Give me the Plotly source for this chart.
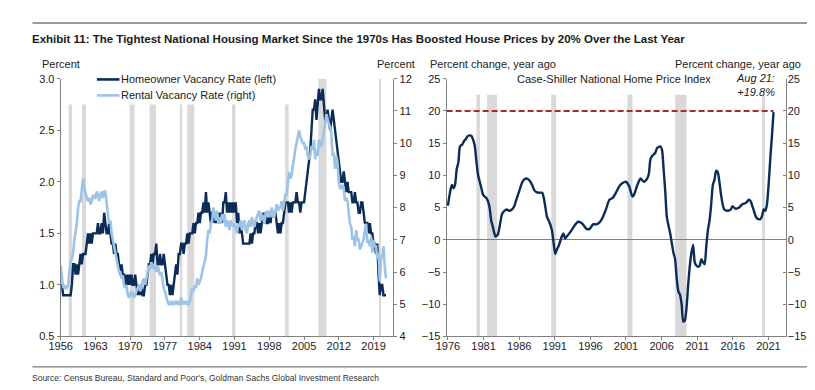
import plotly.graph_objects as go

W, H = 815, 390

# ---------------- DATA ----------------
hv_start_year = 1956  # quarterly series start (Q1)

homeowner_vacancy = [
    1.0, 1.0, 0.9, 0.9,   # 1956
    0.9, 0.9, 0.9, 0.9,   # 1957
    0.9, 1.0, 1.2, 1.2,   # 1958
    1.1, 1.2, 1.1, 1.2,   # 1959
    1.3, 1.2, 1.3, 1.3,   # 1960
    1.3, 1.4, 1.5, 1.4,   # 1961
    1.5, 1.4, 1.5, 1.5,   # 1962
    1.5, 1.5, 1.6, 1.5,   # 1963
    1.5, 1.6, 1.5, 1.7,   # 1964
    1.6, 1.5, 1.5, 1.6,   # 1965
    1.5, 1.4, 1.4, 1.3,   # 1966
    1.4, 1.3, 1.3, 1.2,   # 1967
    1.1, 1.2, 1.1, 1.1,   # 1968
    1.0, 1.1, 1.0, 1.1,   # 1969
    1.0, 1.1, 1.0, 1.0,   # 1970
    1.1, 1.0, 0.9, 1.0,   # 1971
    0.9, 1.0, 0.9, 0.9,   # 1972
    1.0, 1.0, 1.1, 1.2,   # 1973
    1.2, 1.3, 1.2, 1.3,   # 1974
    1.3, 1.4, 1.2, 1.2,   # 1975
    1.3, 1.2, 1.2, 1.3,   # 1976
    1.2, 1.1, 1.0, 1.0,   # 1977
    0.9, 1.0, 0.9, 1.0,   # 1978
    1.1, 1.2, 1.1, 1.3,   # 1979
    1.3, 1.4, 1.4, 1.3,   # 1980
    1.4, 1.4, 1.5, 1.4,   # 1981
    1.5, 1.5, 1.5, 1.6,   # 1982
    1.5, 1.6, 1.6, 1.7,   # 1983
    1.6, 1.7, 1.7, 1.8,   # 1984
    1.7, 1.9, 1.7, 1.8,   # 1985
    1.7, 1.6, 1.7, 1.7,   # 1986
    1.6, 1.7, 1.6, 1.7,   # 1987
    1.6, 1.7, 1.6, 1.8,   # 1988
    1.8, 1.9, 1.7, 1.8,   # 1989
    1.7, 1.8, 1.7, 1.8,   # 1990
    1.7, 1.8, 1.6, 1.7,   # 1991
    1.5, 1.6, 1.5, 1.4,   # 1992
    1.4, 1.4, 1.4, 1.4,   # 1993
    1.4, 1.5, 1.4, 1.5,   # 1994
    1.5, 1.6, 1.6, 1.5,   # 1995
    1.6, 1.5, 1.6, 1.7,   # 1996
    1.6, 1.7, 1.6, 1.6,   # 1997
    1.7, 1.6, 1.7, 1.7,   # 1998
    1.7, 1.7, 1.6, 1.5,   # 1999
    1.6, 1.5, 1.6, 1.6,   # 2000
    1.7, 1.8, 1.8, 1.8,   # 2001
    1.7, 1.8, 1.7, 1.8,   # 2002
    1.8, 1.8, 1.9, 1.8,   # 2003
    1.8, 1.7, 1.8, 1.8,   # 2004
    1.8, 1.9, 2.0, 2.1,   # 2005
    2.2, 2.3, 2.5, 2.7,   # 2006
    2.7, 2.8, 2.6, 2.8,   # 2007
    2.9, 2.8, 2.8, 2.9,   # 2008
    2.7, 2.6, 2.6, 2.7,   # 2009
    2.6, 2.5, 2.6, 2.7,   # 2010
    2.6, 2.5, 2.4, 2.3,   # 2011
    2.2, 2.1, 2.0, 2.0,   # 2012
    2.1, 2.0, 1.9, 2.0,   # 2013
    1.9, 1.9, 1.9, 1.8,   # 2014
    1.8, 1.9, 1.8, 1.8,   # 2015
    1.7, 1.7, 1.8, 1.8,   # 2016
    1.7, 1.6, 1.6, 1.6,   # 2017
    1.5, 1.6, 1.5, 1.5,   # 2018
    1.4, 1.4, 1.3, 1.4,   # 2019
    1.1, 0.9, 1.0, 1.0,   # 2020
    0.9, 0.9, 0.9,        # 2021
]

rental_vacancy = [
    6.2, 5.8, 5.5, 5.6,   # 1956
    5.5, 5.5, 5.6, 6.0,   # 1957
    6.3, 6.4, 6.6, 7.0,   # 1958
    7.2, 7.5, 8.0, 8.2,   # 1959
    8.2, 8.5, 8.9, 8.6,   # 1960
    8.4, 8.3, 8.2, 8.3,   # 1961
    8.1, 8.2, 8.4, 8.3,   # 1962
    8.3, 8.5, 8.4, 8.2,   # 1963
    8.4, 8.5, 8.3, 8.5,   # 1964
    8.5, 8.0, 7.8, 7.5,   # 1965
    7.6, 7.2, 7.0, 6.8,   # 1966
    6.6, 6.5, 6.2, 6.0,   # 1967
    6.0, 5.8, 5.9, 5.6,   # 1968
    5.5, 5.6, 5.3, 5.2,   # 1969
    5.3, 5.4, 5.3, 5.2,   # 1970
    5.3, 5.4, 5.5, 5.6,   # 1971
    5.4, 5.5, 5.7, 5.8,   # 1972
    5.6, 5.8, 6.0, 6.2,   # 1973
    6.1, 6.3, 6.2, 6.1,   # 1974
    6.2, 6.0, 6.2, 6.0,   # 1975
    5.9, 6.0, 5.7, 5.5,   # 1976
    5.4, 5.2, 5.1, 5.0,   # 1977
    5.0, 5.1, 5.0, 5.0,   # 1978
    5.1, 5.0, 5.1, 5.0,   # 1979
    5.0, 5.2, 5.0, 5.1,   # 1980
    5.0, 5.1, 5.0, 5.0,   # 1981
    5.1, 5.3, 5.5, 5.4,   # 1982
    5.6, 5.5, 5.8, 5.6,   # 1983
    5.7, 5.8, 6.0, 6.2,   # 1984
    6.3, 6.5, 7.0, 7.3,   # 1985
    7.2, 7.5, 7.6, 8.0,   # 1986
    7.8, 7.6, 7.9, 7.5,   # 1987
    7.7, 7.5, 7.8, 7.6,   # 1988
    7.8, 7.4, 7.6, 7.5,   # 1989
    7.3, 7.6, 7.5, 7.4,   # 1990
    7.5, 7.3, 7.2, 7.5,   # 1991
    7.4, 7.6, 7.3, 7.5,   # 1992
    7.6, 7.3, 7.2, 7.5,   # 1993
    7.6, 7.4, 7.7, 7.5,   # 1994
    7.4, 7.6, 7.7, 7.8,   # 1995
    7.9, 7.6, 7.8, 7.7,   # 1996
    7.5, 7.8, 7.9, 7.7,   # 1997
    7.9, 7.7, 8.0, 7.8,   # 1998
    7.7, 7.9, 8.1, 7.9,   # 1999
    8.0, 8.0, 8.2, 7.9,   # 2000
    8.2, 8.4, 8.4, 8.8,   # 2001
    9.1, 8.9, 9.0, 9.3,   # 2002
    9.6, 9.8, 10.0, 10.2, # 2003
    10.4, 10.2, 10.1, 10.0,  # 2004
    10.0, 9.8, 9.9, 9.6,  # 2005
    9.5, 9.6, 9.9, 9.8,   # 2006
    10.1, 9.5, 9.8, 9.6,  # 2007
    10.1, 10.0, 9.9, 10.1,  # 2008
    10.3, 10.6, 10.9, 10.7,  # 2009
    10.6, 10.5, 10.3, 9.6,  # 2010
    9.7, 9.2, 9.6, 9.4,   # 2011
    8.8, 8.6, 8.6, 8.7,   # 2012
    8.6, 8.2, 8.3, 8.2,   # 2013
    7.8, 7.5, 7.4, 7.0,   # 2014
    7.1, 6.8, 7.3, 7.0,   # 2015
    7.0, 6.7, 6.8, 6.9,   # 2016
    7.0, 7.3, 7.5, 6.9,   # 2017
    7.0, 6.8, 7.1, 6.6,   # 2018
    7.0, 6.8, 6.8, 6.4,   # 2019
    6.6, 5.7, 6.4, 6.5,   # 2020
    6.8, 6.2, 5.8,        # 2021
]

cs_years = [
    1976.00, 1976.32, 1976.55, 1976.78, 1977.01, 1977.24, 1977.47, 1977.70, 1978.03, 1978.26,
    1978.49, 1978.72, 1979.00, 1979.32, 1979.55, 1979.78, 1980.00, 1980.24, 1980.47, 1980.70,
    1980.93, 1981.16, 1981.39, 1981.62, 1981.85, 1982.08, 1982.31, 1982.68, 1983.00, 1983.33,
    1983.60, 1983.93, 1984.25, 1984.62, 1985.08, 1985.31, 1985.54, 1986.00, 1986.46, 1986.92,
    1987.38, 1987.84, 1988.07, 1988.30, 1988.76, 1989.23, 1989.46, 1989.69, 1989.92, 1990.15,
    1990.60, 1990.84, 1991.07, 1991.30, 1991.53, 1991.99, 1992.22, 1992.45, 1992.68, 1992.91,
    1993.37, 1993.83, 1994.29, 1994.76, 1995.22, 1995.45, 1995.91, 1996.37, 1996.83, 1997.29,
    1997.75, 1998.21, 1998.67, 1999.13, 1999.59, 2000.06, 2000.52, 2000.98, 2001.44, 2001.90,
    2002.13, 2002.59, 2003.05, 2003.51, 2003.97, 2004.20, 2004.43, 2004.66, 2005.12, 2005.35,
    2005.82, 2006.05, 2006.28, 2006.51, 2006.74, 2007.20, 2007.43, 2007.66, 2007.89, 2008.12,
    2008.35, 2008.58, 2008.81, 2009.04, 2009.27, 2009.50, 2009.73, 2009.96, 2010.19, 2010.42,
    2010.65, 2010.88, 2011.12, 2011.35, 2011.58, 2011.81, 2012.04, 2012.27, 2012.50, 2012.73,
    2012.96, 2013.19, 2013.42, 2013.65, 2013.88, 2014.11, 2014.34, 2014.57, 2014.80, 2015.26,
    2015.72, 2015.95, 2016.41, 2016.87, 2017.34, 2017.80, 2018.26, 2018.49, 2018.72, 2018.95,
    2019.18, 2019.41, 2019.87, 2020.10, 2020.33, 2020.56, 2020.79, 2021.02, 2021.25, 2021.48,
    2021.71,
]
cs_yoy = [
    5.3, 7.5, 8.5, 8.0, 8.6, 11.0, 12.0, 14.5, 14.8, 15.3,
    15.6, 16.0, 16.2, 16.1, 15.5, 14.5, 12.2, 10.0, 9.0, 8.0,
    7.0, 6.7, 6.5, 6.0, 5.0, 3.0, 2.0, 0.5, 0.8, 2.5,
    4.0, 4.5, 4.7, 4.5, 4.8, 5.2, 6.0, 7.5, 9.0, 9.5,
    9.3, 8.5, 7.8, 7.5, 7.3, 7.3, 6.5, 5.0, 3.5, 3.0,
    1.5, -0.5, -2.2, -1.5, -1.0, 0.5, 1.0, 0.2, 0.5, 0.8,
    1.5, 2.3, 2.8, 2.6, 2.0, 1.7, 1.7, 2.4, 2.4, 2.7,
    3.5, 4.8, 6.2, 6.5, 7.3, 8.3, 8.8, 9.0, 8.3, 6.7,
    7.0, 8.5, 9.5, 9.0, 9.5, 10.2, 12.5, 13.0, 13.5, 14.2,
    14.5, 14.0, 11.0, 7.5, 3.5, 1.0, -0.5, -2.0, -3.0, -6.0,
    -8.0, -8.5, -10.0, -12.7, -12.5, -10.5, -7.0, -4.0, -2.0, -0.8,
    -3.5, -4.0, -4.2, -4.0, -3.0, -3.5, -3.8, -1.0, 1.5, 3.0,
    5.5, 8.5, 9.3, 10.7, 10.5, 9.0, 7.0, 5.5, 4.7, 4.5,
    4.7, 5.2, 4.8, 5.0, 5.5, 5.7, 6.2, 6.0, 5.3, 4.5,
    3.7, 3.3, 3.2, 3.7, 4.7, 4.5, 5.5, 8.5, 12.5, 16.0,
    19.8,
]

rec_start = [1957.6, 1960.3, 1969.9, 1973.9, 1980.0, 1981.5, 1990.5, 2001.2, 2007.9, 2020.1]
rec_end   = [1958.3, 1961.1, 1970.9, 1975.2, 1980.5, 1982.9, 1991.2, 2001.9, 2009.5, 2020.5]

left_xticks = list(range(1956, 2020, 7))
right_xticks = list(range(1976, 2022, 5))
reference_level = 20
latest_label = "Aug 21:<br>+19.8%"

# ---------------- STYLE ----------------
NAVY = "#0B2C57"
LIGHT = "#9DC3E6"
GREY_BAR = "#D9D9D9"
AXIS = "#808080"
TXT = "#222222"
RED = "#B0282E"
FONT = "Liberation Sans, Arial, sans-serif"

def px(x):
    return x / W

def py(y):
    return 1 - y / H

hv_x = [hv_start_year + i / 4 for i in range(len(homeowner_vacancy))]
rv_x = [hv_start_year + i / 4 for i in range(len(rental_vacancy))]

fig = go.Figure()
fig.add_trace(go.Scatter(x=rv_x, y=rental_vacancy, mode="lines", xaxis="x", yaxis="y2",
                         line=dict(color=LIGHT, width=2.6), name="Rental Vacancy Rate (right)",
                         showlegend=False))
fig.add_trace(go.Scatter(x=hv_x, y=homeowner_vacancy, mode="lines", xaxis="x", yaxis="y",
                         line=dict(color=NAVY, width=2.4), name="Homeowner Vacancy Rate (left)",
                         showlegend=False))
fig.add_trace(go.Scatter(x=cs_years, y=cs_yoy, mode="lines", xaxis="x2", yaxis="y3",
                         line=dict(color=NAVY, width=2.4, shape="spline", smoothing=0.6),
                         name="Case-Shiller National Home Price Index", showlegend=False))
# invisible companion so the right-hand axis of the right panel is drawn
fig.add_trace(go.Scatter(x=cs_years, y=cs_yoy, mode="lines", xaxis="x2", yaxis="y4",
                         line=dict(color="rgba(0,0,0,0)", width=0), hoverinfo="skip",
                         showlegend=False))

shapes = []
# recession shading, left panel
for s, e in zip(rec_start, rec_end):
    top = 3.0 if s > 2005 else 2.75
    shapes.append(dict(type="rect", xref="x", yref="y", x0=s, x1=e, y0=0.5, y1=top,
                       fillcolor=GREY_BAR, line=dict(width=0), layer="below"))
# recession shading, right panel
for s, e in zip(rec_start, rec_end):
    if s < 1976:
        continue
    shapes.append(dict(type="rect", xref="x2", yref="y3", x0=s, x1=e, y0=-15, y1=22.5,
                       fillcolor=GREY_BAR, line=dict(width=0), layer="below"))
# 20% reference line
shapes.append(dict(type="line", xref="x2", yref="y3", x0=1975.82, x1=cs_years[-1],
                   y0=reference_level, y1=reference_level,
                   line=dict(color=RED, width=2, dash="6px,3px")))
# horizontal rules
shapes.append(dict(type="line", xref="paper", yref="paper", x0=px(12.7), x1=px(803),
                   y0=py(9.3), y1=py(9.3), line=dict(color="#7a7a7a", width=1.3)))
shapes.append(dict(type="line", xref="paper", yref="paper", x0=px(12.7), x1=px(803),
                   y0=py(364), y1=py(364), line=dict(color="#7a7a7a", width=1.3)))
# legend samples
shapes.append(dict(type="line", xref="paper", yref="paper", x0=px(78), x1=px(101),
                   y0=py(67.5), y1=py(67.5), line=dict(color=NAVY, width=2.6)))
shapes.append(dict(type="line", xref="paper", yref="paper", x0=px(78), x1=px(101),
                   y0=py(84), y1=py(84), line=dict(color=LIGHT, width=2.6)))

def ann(text, x, y, xanchor="left", size=11, family=FONT, color=TXT, **kw):
    return dict(text=text, x=px(x), y=py(y), xref="paper", yref="paper", xanchor=xanchor,
                yanchor="middle", showarrow=False, font=dict(size=size, family=family, color=color),
                borderpad=0, **kw)

annotations = [
    ann("<b>Exhibit 11: The Tightest National Housing Market Since the 1970s Has Boosted House Prices by 20% Over the Last Year</b>",
        11.5, 25.5, size=11.5, color="#1a1a1a"),
    ann("Percent", 21, 51.5),
    ann("Percent", 361, 51.5),
    ann("Percent change, year ago", 415, 51.5),
    ann("Percent change, year ago", 794, 51.5, xanchor="right"),
    ann("Case-Shiller National Home Price Index", 603, 66.7, xanchor="center"),
    ann("<i>" + latest_label + "</i>", 767, 73.5, xanchor="right", align="right"),
    ann("Homeowner Vacancy Rate (left)", 102, 67.5),
    ann("Rental Vacancy Rate (right)", 102, 84),
    ann("Source: Census Bureau, Standard and Poor's, Goldman Sachs Global Investment Research",
        11.5, 375.7, size=8.5, color="#333333"),
]

ydom = [py(332.7), py(66.7)]
tickfont = dict(family=FONT, size=11, color=TXT)
common = dict(showgrid=False, zeroline=False, showline=True, linecolor=AXIS, linewidth=1,
              ticks="outside", ticklen=3, tickcolor=AXIS, tickfont=tickfont, fixedrange=True)

fig.update_layout(
    width=W, height=H, margin=dict(l=0, r=0, t=0, b=0),
    paper_bgcolor="white", plot_bgcolor="rgba(0,0,0,0)",
    showlegend=False,
    xaxis=dict(domain=[px(41.3), px(379)], range=[1956, 2023], anchor="y",
               tickvals=left_xticks, ticklabelstandoff=-4, **common),
    yaxis=dict(domain=ydom, range=[0.5, 3.0], dtick=0.5, tickformat=".1f", anchor="x", **common),
    yaxis2=dict(overlaying="y", side="right", range=[4, 12], dtick=1, anchor="x", **common),
    xaxis2=dict(domain=[px(433), px(777)], range=[1975.82, 2023.4], anchor="y3",
                tickvals=right_xticks, ticklabelstandoff=-4, **common),
    yaxis3=dict(domain=ydom, range=[-15, 25], dtick=5, anchor="x2",
                **{**common, "zeroline": True, "zerolinecolor": AXIS, "zerolinewidth": 1}),
    yaxis4=dict(overlaying="y3", side="right", range=[-15, 25], dtick=5, anchor="x2",
                ticklabelstandoff=-1, **{**common, "ticks": "inside"}),
    shapes=shapes,
    annotations=annotations,
)

fig.write_html("out.html")
